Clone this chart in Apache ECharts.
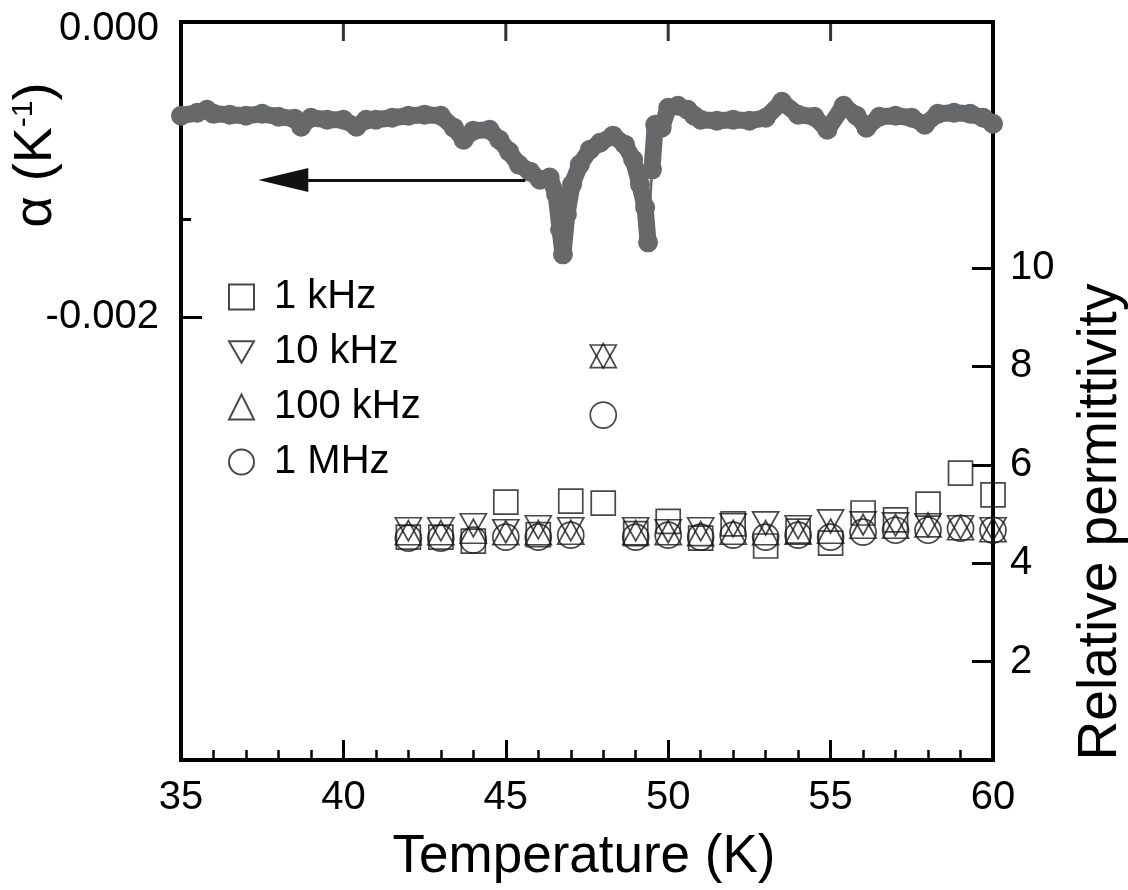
<!DOCTYPE html>
<html>
<head>
<meta charset="utf-8">
<script src="https://cdn.jsdelivr.net/npm/echarts@6/dist/echarts.min.js"></script>
<style>
html,body{margin:0;padding:0;background:#fff;}
#chart{width:1128px;height:890px;}
</style>
</head>
<body>
<div id="chart"></div>
<script>
// ---- thermal expansion alpha (K^-1) vs temperature ----
const alphaT = [35.0,35.5,35.8,36.0,36.5,37.0,37.5,38.0,38.5,38.7,39.0,39.5,40.0,40.4,40.7,41.0,41.5,42.0,42.5,43.0,43.4,43.7,44.0,44.5,44.8,45.1,45.4,45.75,46.05,46.35,46.55,46.67,46.76,46.88,47.04,47.28,47.59,47.9,48.3,48.67,48.92,49.13,49.29,49.38,49.5,49.6,49.8,50.0,50.3,50.6,50.8,51.0,51.5,52.0,52.5,53.0,53.5,54.0,54.5,54.9,55.4,55.8,56.1,56.5,57.0,57.5,57.9,58.3,58.8,59.3,59.7,60.0];
const alphaV = [-0.000635,-0.000615,-0.000595,-0.000622,-0.000628,-0.000635,-0.000622,-0.000642,-0.000655,-0.000709,-0.000649,-0.000662,-0.000662,-0.000709,-0.000662,-0.000662,-0.000649,-0.000635,-0.000628,-0.000635,-0.000716,-0.000797,-0.000736,-0.000730,-0.000797,-0.000878,-0.000966,-0.001014,-0.001068,-0.001054,-0.001169,-0.001405,-0.001574,-0.001304,-0.001101,-0.000966,-0.000865,-0.000818,-0.000770,-0.000831,-0.000932,-0.001101,-0.001257,-0.001493,-0.001000,-0.000696,-0.000716,-0.000581,-0.000568,-0.000595,-0.000635,-0.000662,-0.000669,-0.000662,-0.000669,-0.000649,-0.000541,-0.000628,-0.000642,-0.000730,-0.000568,-0.000635,-0.000716,-0.000642,-0.000635,-0.000649,-0.000696,-0.000622,-0.000615,-0.000622,-0.000649,-0.000689];
const alphaJumpT = 49.38;   // last point before the thin jump segment

// ---- relative permittivity vs temperature ----
const tempK   = [42,43,44,45,46,47,48,49,50,51,52,53,54,55,56,57,58,59,60];
const eps1k   = [4.53,4.53,4.45,5.24,4.58,5.26,5.22,4.60,4.85,4.51,4.80,4.35,4.65,4.41,5.02,4.88,5.20,5.83,5.39];
const eps10k  = [4.69,4.69,4.77,4.65,4.73,4.69,8.20,4.69,4.65,4.69,4.77,4.81,4.73,4.85,4.81,4.79,4.77,4.73,4.69];
const eps100k = [4.62,4.62,4.65,4.62,4.62,4.63,8.22,4.62,4.62,4.60,4.63,4.62,4.63,4.65,4.75,4.75,4.78,4.72,4.68];
const eps1M   = [4.51,4.51,4.47,4.53,4.53,4.57,7.01,4.53,4.57,4.53,4.57,4.53,4.57,4.53,4.63,4.67,4.67,4.71,4.67];
const freqNames = ['1 kHz','10 kHz','100 kHz','1 MHz'];

// ---- axes / annotation ----
const topTicks = [40,45,50,55];
const leftLabels = [0, -0.002];
const leftMinorTicks = [-0.002/3, -0.004/3];
const rightLabels = [2,4,6,8,10];
const arrowFrom = [45.6, -0.00107];
const arrowTo = [38.15, -0.00107];

const FONT = '"Liberation Sans", Arial, Helvetica, sans-serif';
const GRAY = '#67686a';
const CLEAR = 'rgba(0,0,0,0)';
const DOWN_TRI = 'path://M0,0 L20,0 L10,17.32 Z';
const TOP_TICK = 19;
const chart = echarts.init(document.getElementById('chart'), null, {renderer:'canvas'});

const jumpIdx = alphaT.indexOf(alphaJumpT);
const alphaAll = alphaT.map((t,i)=>[t, alphaV[i]]);
const alphaLeft = alphaAll.slice(0, jumpIdx+1);
const alphaRight = alphaAll.slice(jumpIdx+1);
const alphaJump = alphaAll.slice(jumpIdx, jumpIdx+2);

function pts(vals){ return tempK.map((t,i)=>[t, vals[i]]); }
const hollow = {color:CLEAR, borderColor:'#1a1a1a', borderWidth:1.7};
function axisLine(){ return {show:true, onZero:false, lineStyle:{color:'#000', width:4}}; }

const option = {
  animation:false,
  backgroundColor:'#fff',
  grid:{left:181, right:135, top:22, bottom:130, containLabel:false,
        show:true, borderColor:'#000', borderWidth:4, backgroundColor:CLEAR},
  xAxis:[
    {type:'value', position:'bottom', min:35, max:60, interval:5,
     axisLine:axisLine(),
     axisTick:{show:true, inside:true, length:20, lineStyle:{color:'#000', width:3}},
     minorTick:{show:true, splitNumber:5, length:10, lineStyle:{color:'#000', width:2.5}},
     axisLabel:{fontSize:40, color:'#000', fontFamily:FONT, margin:18},
     splitLine:{show:false}, minorSplitLine:{show:false}}
  ],
  yAxis:[
    {type:'value', position:'left', min:-0.005, max:0,
     axisLine:axisLine(),
     axisTick:{show:true, inside:true, length:21, customValues:[-0.002], lineStyle:{color:'#000', width:3}},
     axisLabel:{fontSize:40, color:'#000', fontFamily:FONT, margin:22, customValues:leftLabels,
       formatter:v=>Math.abs(v)<1e-12 ? '{z|0.000}' : v.toFixed(3),
       rich:{z:{fontSize:40, color:'#000', fontFamily:FONT, padding:[14,0,0,0]}}},
     splitLine:{show:false}},
    {type:'value', position:'left', min:-0.005, max:0, offset:0,
     axisLine:{show:false, onZero:false},
     axisTick:{show:true, inside:true, length:10, customValues:leftMinorTicks, lineStyle:{color:'#000', width:3}},
     axisLabel:{show:false}, splitLine:{show:false}},
    {type:'value', position:'right', min:0, max:15,
     axisLine:axisLine(),
     axisTick:{show:true, inside:true, length:21, customValues:rightLabels, lineStyle:{color:'#000', width:3}},
     axisLabel:{fontSize:40, color:'#000', fontFamily:FONT, margin:17, customValues:rightLabels},
     splitLine:{show:false}}
  ],
  legend:{
    orient:'vertical', left:223, top:272, itemGap:15, itemWidth:25, itemHeight:25,
    data:freqNames, selectedMode:false,
    textStyle:{fontSize:40, color:'#000', fontFamily:FONT, padding:[0,0,0,15]}
  },
  graphic:[
    {type:'text', x:36, y:155, rotation:Math.PI/2,
     style:{text:'{n|α (K}{s|-1}{n|)}', align:'center', verticalAlign:'middle', fill:'#000',
       rich:{n:{fontSize:54, fontFamily:FONT, fill:'#000'},
             s:{fontSize:30, fontFamily:FONT, fill:'#000', padding:[0,0,24,0]}}}},
    {type:'text', x:1101, y:522, rotation:Math.PI/2,
     style:{text:'Relative permittivity', fontSize:55, fontFamily:FONT, fill:'#000', align:'center', verticalAlign:'middle'}},
    {type:'text', x:584, y:857,
     style:{text:'Temperature (K)', fontSize:53, fontFamily:FONT, fill:'#000', align:'center', verticalAlign:'middle'}}
  ],
  series:[
    {name:'alpha', type:'line', xAxisIndex:0, yAxisIndex:0, data:alphaLeft, z:2,
     symbol:'circle', symbolSize:20, showSymbol:true, itemStyle:{color:GRAY},
     lineStyle:{color:GRAY, width:17, join:'round', cap:'round'}, silent:true,
     markLine:{silent:true, symbol:['none','triangle'], symbolSize:[24,50],
       label:{show:false}, lineStyle:{color:'#111', width:3, type:'solid'},
       data:[[{coord:arrowFrom},{coord:arrowTo}]]}},
    {name:'alpha2', type:'line', xAxisIndex:0, yAxisIndex:0, data:alphaRight, z:2,
     symbol:'circle', symbolSize:20, showSymbol:true, itemStyle:{color:GRAY},
     lineStyle:{color:GRAY, width:17, join:'round', cap:'round'}, silent:true},
    {name:'alphaJump', type:'line', xAxisIndex:0, yAxisIndex:0, data:alphaJump, z:2,
     symbol:'none', lineStyle:{color:GRAY, width:2.5}, silent:true},
    // top-frame ticks: short bars hanging down from the top edge (alpha = 0) at each major temperature
    {name:'topTicks', type:'scatter', xAxisIndex:0, yAxisIndex:0, z:5, silent:true, clip:false,
     data:topTicks.map(t=>[t, 0]), symbol:'rect', symbolSize:[3, TOP_TICK],
     symbolOffset:[0, TOP_TICK/2], itemStyle:{color:'#000'}},
    {name:freqNames[0], type:'scatter', xAxisIndex:0, yAxisIndex:2, data:pts(eps1k), z:3,
     symbol:'rect', symbolSize:24, itemStyle:hollow},
    {name:freqNames[1], type:'scatter', xAxisIndex:0, yAxisIndex:2, data:pts(eps10k), z:3,
     symbol:DOWN_TRI, symbolSize:[26,23], itemStyle:hollow},
    {name:freqNames[2], type:'scatter', xAxisIndex:0, yAxisIndex:2, data:pts(eps100k), z:3,
     symbol:'triangle', symbolSize:[26,24], itemStyle:hollow},
    {name:freqNames[3], type:'scatter', xAxisIndex:0, yAxisIndex:2, data:pts(eps1M), z:3,
     symbol:'circle', symbolSize:26, itemStyle:hollow}
  ]
};
chart.setOption(option);
</script>
</body>
</html>
